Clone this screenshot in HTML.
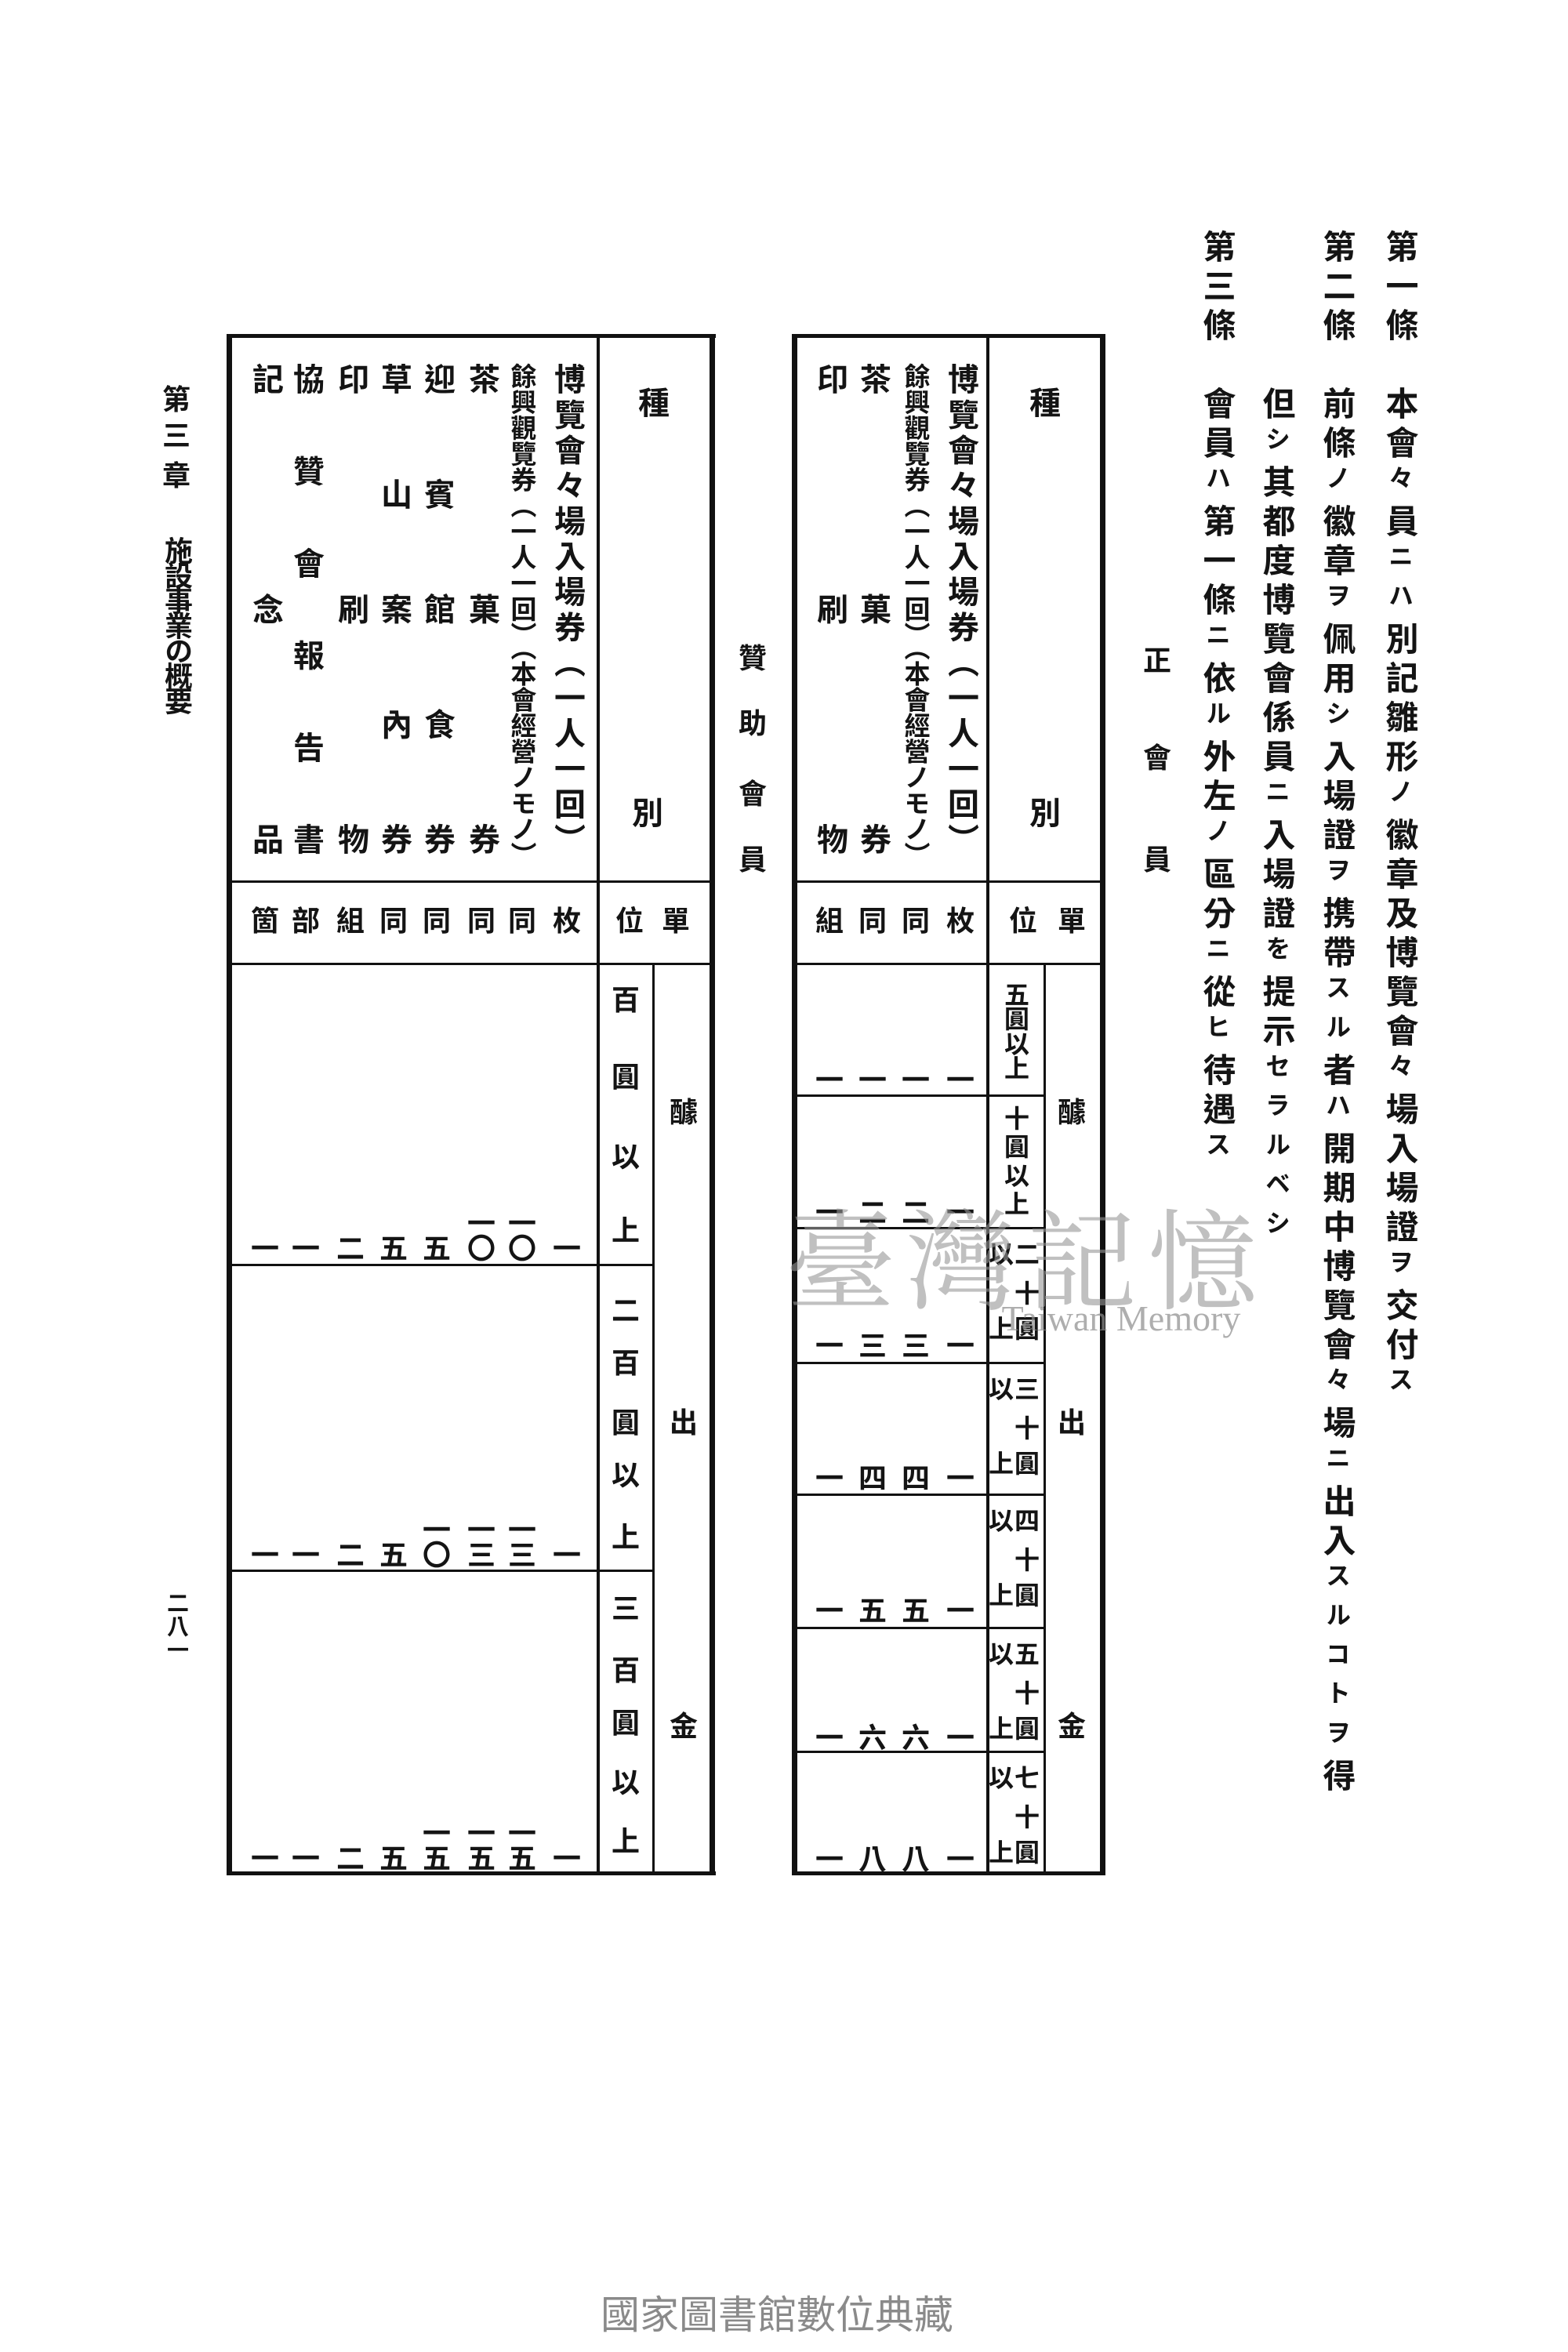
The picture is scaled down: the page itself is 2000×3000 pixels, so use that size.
<!DOCTYPE html>
<html><head><meta charset="utf-8"><style>
html,body{margin:0;padding:0;background:#fff}
body{width:2000px;height:3000px;position:relative;overflow:hidden;font-family:"Liberation Sans","Noto Sans CJK TC","Noto Sans CJK JP",sans-serif;color:#141414}
.l{position:absolute;background:#111}
.c{position:absolute;transform:translate(-50%,-50%);line-height:1;font-weight:700;white-space:nowrap}
.v{position:absolute;writing-mode:vertical-rl;line-height:1;font-weight:700;white-space:nowrap}
.col{position:absolute;writing-mode:vertical-rl;line-height:1;font-weight:700;text-align:justify;text-align-last:justify}
.k{font-size:32px;letter-spacing:18px}
.t{font-size:42px;letter-spacing:8px}
.s36{font-size:36px}.s32{font-size:32px}.s40{font-size:40px}
</style></head><body>

<div class="v t" style="left:1764px;top:293px">第一條　本會<span class="k">々</span>員<span class="k">ニハ</span>別記雛形<span class="k">ノ</span>徽章及博覽會<span class="k">々</span>場入場證<span class="k">ヲ</span>交付<span class="k">ス</span></div>
<div class="v t" style="left:1684px;top:293px">第二條　前條<span class="k">ノ</span>徽章<span class="k">ヲ</span>佩用<span class="k">シ</span>入場證<span class="k">ヲ</span>携帶<span class="k">スル</span>者<span class="k">ハ</span>開期中博覽會<span class="k">々</span>場<span class="k">ニ</span>出入<span class="k">スルコトヲ</span>得</div>
<div class="v t" style="left:1607px;top:493px">但<span class="k">シ</span>其都度博覽會係員<span class="k">ニ</span>入場證<span class="k">を</span>提示<span class="k">セラルベシ</span></div>
<div class="v t" style="left:1531px;top:293px">第三條　會員<span class="k">ハ</span>第一條<span class="k">ニ</span>依<span class="k">ル</span>外左<span class="k">ノ</span>區分<span class="k">ニ</span>從<span class="k">ヒ</span>待遇<span class="k">ス</span></div>

<div class="c s36" style="left:1476px;top:843px">正</div>
<div class="c s36" style="left:1476px;top:967px">會</div>
<div class="c s36" style="left:1476px;top:1097px">員</div>
<div class="c s36" style="left:960px;top:840px">贊</div>
<div class="c s36" style="left:960px;top:923px">助</div>
<div class="c s36" style="left:960px;top:1013px">會</div>
<div class="c s36" style="left:960px;top:1097px">員</div>

<div class="l" style="left:1010px;top:426px;width:400px;height:5px"></div>
<div class="l" style="left:1010px;top:2387px;width:400px;height:5px"></div>
<div class="l" style="left:1010px;top:426px;width:7px;height:1966px"></div>
<div class="l" style="left:1403px;top:426px;width:7px;height:1966px"></div>
<div class="l" style="left:1258px;top:426px;width:4px;height:1966px"></div>
<div class="l" style="left:1331px;top:1229px;width:3px;height:1160px"></div>
<div class="l" style="left:1013px;top:1123px;width:392px;height:3px"></div>
<div class="l" style="left:1013px;top:1228px;width:392px;height:3px"></div>
<div class="l" style="left:1013px;top:1396px;width:320px;height:3px"></div>
<div class="l" style="left:1013px;top:1565px;width:320px;height:3px"></div>
<div class="l" style="left:1013px;top:1737px;width:320px;height:3px"></div>
<div class="l" style="left:1013px;top:1905px;width:320px;height:3px"></div>
<div class="l" style="left:1013px;top:2075px;width:320px;height:3px"></div>
<div class="l" style="left:1013px;top:2233px;width:320px;height:3px"></div>

<div class="c s40" style="left:1333px;top:515px">種</div>
<div class="c s40" style="left:1333px;top:1038px">別</div>
<div class="c s36" style="left:1367px;top:1175px">單</div>
<div class="c s36" style="left:1305px;top:1175px">位</div>
<div class="c s36" style="left:1367px;top:1419px">醵</div>
<div class="c s36" style="left:1367px;top:1815px">出</div>
<div class="c s36" style="left:1367px;top:2202px">金</div>

<div class="col s40" style="left:1205px;top:463px;width:40px;height:627px">博覽會々場入場券（一人一回）</div>
<div class="col" style="left:1151px;top:463px;width:33px;height:627px;font-size:33px">餘興觀覽券（一人一回）（本會經營ノモノ）</div>
<div class="col s40" style="left:1093px;top:463px;width:40px;height:627px">茶菓券</div>
<div class="col s40" style="left:1038px;top:463px;width:40px;height:627px">印刷物</div>
<div class="c s36" style="left:1225px;top:1175px">枚</div>
<div class="c s36" style="left:1168px;top:1175px">同</div>
<div class="c s36" style="left:1113px;top:1175px">同</div>
<div class="c s36" style="left:1058px;top:1175px">組</div>

<div class="c s32" style="left:1297px;top:1269px">五</div>
<div class="c s32" style="left:1297px;top:1300px">圓</div>
<div class="c s32" style="left:1297px;top:1332px">以</div>
<div class="c s32" style="left:1297px;top:1363px">上</div>
<div class="c s32" style="left:1297px;top:1427px">十</div>
<div class="c s32" style="left:1297px;top:1463px">圓</div>
<div class="c s32" style="left:1297px;top:1500px">以</div>
<div class="c s32" style="left:1297px;top:1536px">上</div>

<div class="c s32" style="left:1310px;top:1600px">二</div><div class="c s32" style="left:1310px;top:1650px">十</div><div class="c s32" style="left:1310px;top:1695px">圓</div><div class="c s32" style="left:1277px;top:1600px">以</div><div class="c s32" style="left:1277px;top:1695px">上</div>
<div class="c s32" style="left:1310px;top:1772px">三</div><div class="c s32" style="left:1310px;top:1822px">十</div><div class="c s32" style="left:1310px;top:1867px">圓</div><div class="c s32" style="left:1277px;top:1772px">以</div><div class="c s32" style="left:1277px;top:1867px">上</div>
<div class="c s32" style="left:1310px;top:1940px">四</div><div class="c s32" style="left:1310px;top:1990px">十</div><div class="c s32" style="left:1310px;top:2035px">圓</div><div class="c s32" style="left:1277px;top:1940px">以</div><div class="c s32" style="left:1277px;top:2035px">上</div>
<div class="c s32" style="left:1310px;top:2110px">五</div><div class="c s32" style="left:1310px;top:2160px">十</div><div class="c s32" style="left:1310px;top:2205px">圓</div><div class="c s32" style="left:1277px;top:2110px">以</div><div class="c s32" style="left:1277px;top:2205px">上</div>
<div class="c s32" style="left:1310px;top:2268px">七</div><div class="c s32" style="left:1310px;top:2318px">十</div><div class="c s32" style="left:1310px;top:2363px">圓</div><div class="c s32" style="left:1277px;top:2268px">以</div><div class="c s32" style="left:1277px;top:2363px">上</div>

<div class="c s36" style="left:1225px;top:1378px">一</div><div class="c s36" style="left:1168px;top:1378px">一</div><div class="c s36" style="left:1113px;top:1378px">一</div><div class="c s36" style="left:1058px;top:1378px">一</div>
<div class="c s36" style="left:1225px;top:1547px">一</div><div class="c s36" style="left:1168px;top:1547px">二</div><div class="c s36" style="left:1113px;top:1547px">二</div><div class="c s36" style="left:1058px;top:1547px">一</div>
<div class="c s36" style="left:1225px;top:1717px">一</div><div class="c s36" style="left:1168px;top:1717px">三</div><div class="c s36" style="left:1113px;top:1717px">三</div><div class="c s36" style="left:1058px;top:1717px">一</div>
<div class="c s36" style="left:1225px;top:1886px">一</div><div class="c s36" style="left:1168px;top:1886px">四</div><div class="c s36" style="left:1113px;top:1886px">四</div><div class="c s36" style="left:1058px;top:1886px">一</div>
<div class="c s36" style="left:1225px;top:2055px">一</div><div class="c s36" style="left:1168px;top:2055px">五</div><div class="c s36" style="left:1113px;top:2055px">五</div><div class="c s36" style="left:1058px;top:2055px">一</div>
<div class="c s36" style="left:1225px;top:2217px">一</div><div class="c s36" style="left:1168px;top:2217px">六</div><div class="c s36" style="left:1113px;top:2217px">六</div><div class="c s36" style="left:1058px;top:2217px">一</div>
<div class="c s36" style="left:1225px;top:2372px">一</div><div class="c s36" style="left:1168px;top:2372px">八</div><div class="c s36" style="left:1113px;top:2372px">八</div><div class="c s36" style="left:1058px;top:2372px">一</div>

<div class="l" style="left:289px;top:426px;width:624px;height:5px"></div>
<div class="l" style="left:289px;top:2387px;width:624px;height:5px"></div>
<div class="l" style="left:289px;top:426px;width:7px;height:1966px"></div>
<div class="l" style="left:905px;top:426px;width:7px;height:1966px"></div>
<div class="l" style="left:761px;top:426px;width:4px;height:1966px"></div>
<div class="l" style="left:832px;top:1229px;width:3px;height:1160px"></div>
<div class="l" style="left:292px;top:1123px;width:615px;height:3px"></div>
<div class="l" style="left:292px;top:1228px;width:615px;height:3px"></div>
<div class="l" style="left:292px;top:1612px;width:542px;height:3px"></div>
<div class="l" style="left:292px;top:2002px;width:542px;height:3px"></div>

<div class="c s40" style="left:834px;top:515px">種</div>
<div class="c s40" style="left:826px;top:1038px">別</div>
<div class="c s36" style="left:862px;top:1175px">單</div>
<div class="c s36" style="left:803px;top:1175px">位</div>
<div class="c s36" style="left:872px;top:1419px">醵</div>
<div class="c s36" style="left:872px;top:1815px">出</div>
<div class="c s36" style="left:872px;top:2202px">金</div>

<div class="col s40" style="left:703px;top:463px;width:40px;height:627px">博覽會々場入場券（一人一回）</div>
<div class="col" style="left:649px;top:463px;width:33px;height:627px;font-size:33px">餘興觀覽券（一人一回）（本會經營ノモノ）</div>
<div class="col s40" style="left:594px;top:463px;width:40px;height:627px">茶菓券</div>
<div class="col s40" style="left:537px;top:463px;width:40px;height:627px">迎賓館食券</div>
<div class="col s40" style="left:482px;top:463px;width:40px;height:627px">草山案內券</div>
<div class="col s40" style="left:427px;top:463px;width:40px;height:627px">印刷物</div>
<div class="col s40" style="left:370px;top:463px;width:40px;height:627px">協贊會報告書</div>
<div class="col s40" style="left:318px;top:463px;width:40px;height:627px">記念品</div>
<div class="c s36" style="left:723px;top:1175px">枚</div>
<div class="c s36" style="left:666px;top:1175px">同</div>
<div class="c s36" style="left:614px;top:1175px">同</div>
<div class="c s36" style="left:557px;top:1175px">同</div>
<div class="c s36" style="left:502px;top:1175px">同</div>
<div class="c s36" style="left:447px;top:1175px">組</div>
<div class="c s36" style="left:390px;top:1175px">部</div>
<div class="c s36" style="left:338px;top:1175px">箇</div>

<div class="c s36" style="left:798px;top:1276px">百</div><div class="c s36" style="left:798px;top:1374px">圓</div><div class="c s36" style="left:798px;top:1476px">以</div><div class="c s36" style="left:798px;top:1570px">上</div>
<div class="c s36" style="left:798px;top:1672px">二</div><div class="c s36" style="left:798px;top:1739px">百</div><div class="c s36" style="left:798px;top:1815px">圓</div><div class="c s36" style="left:798px;top:1882px">以</div><div class="c s36" style="left:798px;top:1961px">上</div>
<div class="c s36" style="left:798px;top:2052px">三</div><div class="c s36" style="left:798px;top:2131px">百</div><div class="c s36" style="left:798px;top:2198px">圓</div><div class="c s36" style="left:798px;top:2274px">以</div><div class="c s36" style="left:798px;top:2349px">上</div>

<div class="c s36" style="left:723px;top:1593px">一</div>
<div class="c s36" style="left:666px;top:1561px">一</div><div class="c s36" style="left:666px;top:1593px">〇</div>
<div class="c s36" style="left:614px;top:1561px">一</div><div class="c s36" style="left:614px;top:1593px">〇</div>
<div class="c s36" style="left:557px;top:1593px">五</div>
<div class="c s36" style="left:502px;top:1593px">五</div>
<div class="c s36" style="left:447px;top:1593px">二</div>
<div class="c s36" style="left:390px;top:1593px">一</div>
<div class="c s36" style="left:338px;top:1593px">一</div>
<div class="c s36" style="left:723px;top:1984px">一</div>
<div class="c s36" style="left:666px;top:1952px">一</div><div class="c s36" style="left:666px;top:1984px">三</div>
<div class="c s36" style="left:614px;top:1952px">一</div><div class="c s36" style="left:614px;top:1984px">三</div>
<div class="c s36" style="left:557px;top:1952px">一</div><div class="c s36" style="left:557px;top:1984px">〇</div>
<div class="c s36" style="left:502px;top:1984px">五</div>
<div class="c s36" style="left:447px;top:1984px">二</div>
<div class="c s36" style="left:390px;top:1984px">一</div>
<div class="c s36" style="left:338px;top:1984px">一</div>
<div class="c s36" style="left:723px;top:2371px">一</div>
<div class="c s36" style="left:666px;top:2339px">一</div><div class="c s36" style="left:666px;top:2371px">五</div>
<div class="c s36" style="left:614px;top:2339px">一</div><div class="c s36" style="left:614px;top:2371px">五</div>
<div class="c s36" style="left:557px;top:2339px">一</div><div class="c s36" style="left:557px;top:2371px">五</div>
<div class="c s36" style="left:502px;top:2371px">五</div>
<div class="c s36" style="left:447px;top:2371px">二</div>
<div class="c s36" style="left:390px;top:2371px">一</div>
<div class="c s36" style="left:338px;top:2371px">一</div>

<div class="c s36" style="left:225px;top:510px">第</div>
<div class="c s36" style="left:225px;top:556px">三</div>
<div class="c s36" style="left:225px;top:607px">章</div>
<div class="v" style="left:207px;top:684px;font-size:36px;letter-spacing:-4px">施設事業の概要</div>
<div class="v" style="left:211px;top:2030px;font-size:28px;letter-spacing:2px">二八一</div>

<div class="c" style="left:1310px;top:1600px;font-size:140px;color:rgba(150,150,150,0.6);font-weight:400;font-family:'Noto Serif CJK SC',serif;letter-spacing:14px">臺灣記憶</div>
<div class="c" style="left:1430px;top:1682px;font-size:46px;color:rgba(140,140,140,0.7);font-weight:400;font-family:'Liberation Serif',serif">Taiwan Memory</div>

<div class="c" style="left:991px;top:2953px;font-size:50px;color:#8a8a8a;font-weight:400">國家圖書館數位典藏</div>
</body></html>
